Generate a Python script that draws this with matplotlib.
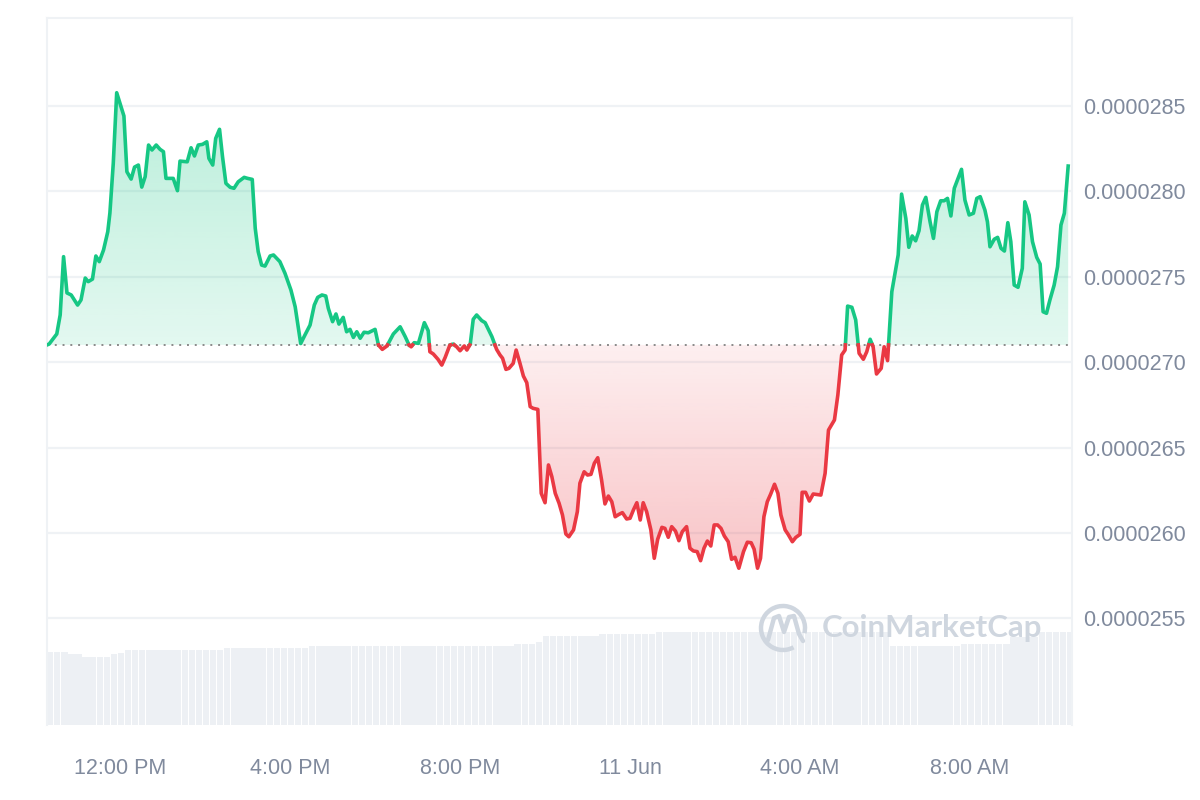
import matplotlib as mpl
mpl.use('Agg')
import matplotlib.pyplot as plt
import numpy as np
from matplotlib.path import Path
from matplotlib.colors import to_rgb
from matplotlib.patches import Arc

plt.rcParams['font.family'] = ['Liberation Sans', 'DejaVu Sans']

# time in hours since 10 Jun 00:00, price in units of 1e-7
hours = [
    10.28, 10.33, 10.51, 10.59, 10.67, 10.75, 10.85, 11.00, 11.08, 11.18,
    11.25, 11.35, 11.43, 11.51, 11.61, 11.71, 11.76, 11.84, 11.92, 12.09,
    12.16, 12.26, 12.34, 12.43, 12.51, 12.59, 12.67, 12.75, 12.85, 12.94,
    13.02, 13.08, 13.25, 13.35, 13.41, 13.58, 13.67, 13.75, 13.84, 13.94,
    14.04, 14.09, 14.18, 14.25, 14.34, 14.41, 14.49, 14.59, 14.68, 14.78,
    14.92, 15.00, 15.11, 15.18, 15.25, 15.33, 15.41, 15.53, 15.61, 15.76,
    15.88, 16.02, 16.12, 16.25, 16.35, 16.47, 16.57, 16.65, 16.75, 16.84,
    16.90, 17.00, 17.08, 17.15, 17.25, 17.33, 17.41, 17.49, 17.57, 17.65,
    17.74, 17.84, 18.00, 18.08, 18.17, 18.28, 18.43, 18.59, 18.71, 18.80,
    18.85, 18.92, 19.02, 19.16, 19.25, 19.29, 19.37, 19.48, 19.57, 19.65,
    19.76, 19.84, 19.92, 20.00, 20.10, 20.16, 20.24, 20.31, 20.39, 20.51,
    20.59, 20.75, 20.86, 20.94, 21.00, 21.08, 21.15, 21.25, 21.32, 21.41,
    21.49, 21.57, 21.65, 21.72, 21.83, 21.91, 22.00, 22.08, 22.16, 22.24,
    22.33, 22.41, 22.49, 22.56, 22.67, 22.76, 22.82, 22.92, 23.00, 23.08,
    23.16, 23.24, 23.33, 23.41, 23.49, 23.57, 23.65, 23.74, 23.82, 23.92,
    24.00, 24.08, 24.16, 24.24, 24.31, 24.39, 24.49, 24.57, 24.65, 24.75,
    24.82, 24.90, 24.98, 25.07, 25.15, 25.23, 25.33, 25.41, 25.49, 25.58,
    25.66, 25.74, 25.82, 25.90, 25.98, 26.06, 26.14, 26.22, 26.31, 26.39,
    26.47, 26.56, 26.67, 26.76, 26.85, 26.92, 27.00, 27.07, 27.15, 27.23,
    27.31, 27.40, 27.48, 27.55, 27.65, 27.72, 27.82, 27.90, 28.00, 28.05,
    28.13, 28.22, 28.31, 28.49, 28.59, 28.67, 28.81, 28.89, 28.98, 29.06,
    29.12, 29.22, 29.31, 29.39, 29.49, 29.57, 29.65, 29.72, 29.80, 29.91,
    29.98, 30.06, 30.16, 30.31, 30.39, 30.49, 30.56, 30.64, 30.72, 30.80,
    30.88, 30.96, 31.06, 31.14, 31.22, 31.31, 31.39, 31.47, 31.55, 31.63,
    31.72, 31.80, 31.88, 31.98, 32.08, 32.16, 32.24, 32.35, 32.41, 32.47,
    32.57, 32.65, 32.73, 32.81, 32.89, 32.96, 33.04, 33.13, 33.23, 33.29,
    33.39, 33.47, 33.57, 33.65, 33.72, 33.80, 33.88, 33.98, 34.06, 34.14,
    34.22, 34.31]

prices = [
    271.00, 271.05, 271.64, 272.75, 276.16, 274.04, 273.92, 273.33, 273.63, 274.91,
    274.70, 274.85, 276.20, 275.87, 276.55, 277.62, 278.71, 281.64, 285.75, 284.39,
    281.13, 280.70, 281.40, 281.52, 280.23, 280.84, 282.69, 282.40, 282.69, 282.44,
    282.30, 280.74, 280.74, 280.02, 281.75, 281.71, 282.53, 282.05, 282.69, 282.73,
    282.88, 281.91, 281.52, 283.08, 283.61, 282.01, 280.45, 280.22, 280.16, 280.54,
    280.80, 280.74, 280.68, 277.82, 276.45, 275.67, 275.61, 276.20, 276.26, 275.87,
    275.19, 274.21, 273.23, 271.08, 271.58, 272.16, 273.33, 273.78, 273.92, 273.86,
    273.14, 272.36, 272.81, 272.22, 272.61, 271.77, 271.91, 271.44, 271.77, 271.39,
    271.74, 271.71, 271.91, 270.99, 270.74, 270.94, 271.64, 272.06, 271.48, 270.99,
    270.89, 271.13, 271.09, 272.30, 271.83, 270.60, 270.47, 270.16, 269.82, 270.27,
    270.99, 271.05, 270.89, 270.66, 270.94, 270.70, 271.05, 272.50, 272.75, 272.42,
    272.30, 271.48, 270.74, 270.41, 270.22, 269.57, 269.63, 269.92, 270.70, 269.92,
    269.18, 268.79, 267.39, 267.29, 267.23, 262.32, 261.77, 263.98, 263.29, 262.32,
    261.74, 261.05, 259.94, 259.78, 260.18, 261.25, 262.91, 263.58, 263.39, 263.43,
    264.08, 264.40, 263.10, 261.70, 262.16, 261.83, 260.95, 261.09, 261.19, 260.82,
    260.86, 261.35, 261.77, 260.76, 261.77, 261.25, 260.18, 258.52, 259.63, 260.33,
    260.27, 259.75, 260.37, 260.11, 259.55, 260.08, 260.37, 259.11, 258.95, 258.91,
    258.38, 259.11, 259.53, 259.24, 260.47, 260.47, 260.27, 259.82, 259.49, 258.46,
    258.58, 257.94, 258.91, 259.46, 259.43, 259.05, 257.94, 258.52, 260.95, 261.83,
    262.28, 262.85, 262.32, 261.05, 260.18, 259.92, 259.49, 259.74, 259.92, 262.38,
    262.38, 261.87, 262.28, 262.22, 263.49, 266.02, 266.61, 268.07, 270.41, 270.70,
    273.27, 273.20, 272.46, 270.51, 270.16, 270.60, 271.33, 270.89, 269.30, 269.63,
    270.89, 270.08, 274.11, 276.26, 279.82, 278.40, 276.71, 277.37, 277.09, 277.68,
    279.18, 279.63, 278.20, 277.23, 278.79, 279.43, 279.43, 279.57, 278.54, 280.16,
    280.74, 281.27, 279.47, 278.60, 278.70, 279.57, 279.67, 278.89, 278.20, 276.74,
    277.18, 277.29, 276.65, 276.49, 278.15, 277.04, 274.50, 274.37, 275.48, 279.37,
    278.60, 277.04, 276.12, 275.73, 272.94, 272.85, 273.63, 274.50, 275.57, 278.01,
    278.70, 281.46]

# volume (10 minute bars), read as runs of equal height
vol_levels = [7.33, 7.07, 6.83, 7.07, 7.25, 7.50, 7.67, 7.90, 8.07, 8.33,
              8.90, 9.07, 9.27, 7.95, 8.10, 8.80, 9.30]
vol_counts = [3, 2, 4, 1, 1, 14, 12, 29, 3, 1, 8, 8, 33, 10, 7, 4, 5]

tick_hours = [12, 16, 20, 24, 28, 32]
tick_labels = ['12:00 PM', '4:00 PM', '8:00 PM', '11 Jun', '4:00 AM', '8:00 AM']
price_ticks = [255, 260, 265, 270, 275, 280, 285]

green = '#16c784'
red = '#ea3943'
grey_txt = '#808a9d'
grid_c = '#eff2f5'

t = np.array(hours)
p = np.array(prices) * 1e-7
base = p[0]

fig = plt.figure(figsize=(12, 8), dpi=100)
rect = [47 / 1200, 75 / 800, 1025 / 1200, 707 / 800]
xlim = (10.28, 34.40)

# volume underneath
axv = fig.add_axes(rect)
vol = np.repeat(vol_levels, vol_counts)
vx = xlim[0] + np.arange(len(vol)) / 6
axv.bar(vx, vol, width=1 / 6 * 0.9, align='edge', color='#edf0f4', linewidth=0)
axv.set_xlim(xlim)
axv.set_ylim(0, 70.7)
axv.axis('off')

ax = fig.add_axes(rect)
ax.patch.set_visible(False)

# insert crossing points so the colour switches exactly at the baseline
tt, pp = [t[0]], [p[0]]
for i in range(1, len(t)):
    d0, d1 = p[i - 1] - base, p[i] - base
    if d0 * d1 < 0:
        f = d0 / (d0 - d1)
        tt.append(t[i - 1] + f * (t[i] - t[i - 1]))
        pp.append(base)
    tt.append(t[i])
    pp.append(p[i])
tt, pp = np.array(tt), np.array(pp)


def grad_fill(mask, color, a_base, a_far, y_far):
    poly = ax.fill_between(tt, pp, base, where=mask, facecolor='none', edgecolor='none')
    path = Path.make_compound_path(*poly.get_paths())
    rgba = np.zeros((256, 1, 4))
    rgba[..., :3] = to_rgb(color)
    lo, hi = min(base, y_far), max(base, y_far)
    if y_far > base:
        rgba[:, 0, 3] = np.linspace(a_base, a_far, 256)
    else:
        rgba[:, 0, 3] = np.linspace(a_far, a_base, 256)
    im = ax.imshow(rgba, extent=[tt[0], tt[-1], lo, hi], origin='lower',
                   aspect='auto', zorder=1)
    im.set_clip_path(path, ax.transData)


grad_fill(pp >= base, green, 0.12, 0.30, pp.max())
grad_fill(pp <= base, red, 0.08, 0.30, pp.min())

ax.plot(tt, np.where(pp >= base, pp, np.nan), color=green, lw=2.6, zorder=3,
        solid_joinstyle='round')
ax.plot(tt, np.where(pp <= base, pp, np.nan), color=red, lw=2.6, zorder=3,
        solid_joinstyle='round')
ax.hlines(base, tt[0], tt[-1], colors='#8a8a8a', linestyles=(0, (1, 3)),
          lw=1.4, zorder=2)

ax.set_xlim(xlim)
ax.set_ylim(248.77e-7, 290.12e-7)
ax.set_yticks([v * 1e-7 for v in price_ticks])
ax.set_yticklabels(['%.7f' % (v * 1e-7) for v in price_ticks])
ax.set_xticks(tick_hours)
ax.set_xticklabels(tick_labels)
ax.yaxis.tick_right()
ax.tick_params(axis='y', length=0, pad=8, labelsize=15.5, colors=grey_txt)
ax.tick_params(axis='x', length=0, pad=24, labelsize=15.5, colors=grey_txt)
ax.grid(axis='y', color=grid_c, lw=1.6, zorder=0)
ax.set_axisbelow(True)
for s in ax.spines.values():
    s.set_color(grid_c)
    s.set_linewidth(1.5)
ax.spines['bottom'].set_visible(False)

# watermark
wm = '#cfd6df'
fig.text(822 / 1200, 1 - 628 / 800, 'CoinMarketCap', color=wm, fontsize=22.5,
         fontweight='bold', ha='left', va='center', family=['Lato', 'DejaVu Sans'])
fig.add_artist(Arc((783 / 1200, 1 - 628 / 800), 44 / 1200, 44 / 800, theta1=-20,
                   theta2=290, transform=fig.transFigure, color=wm, lw=3.2))
mx = np.array([768, 774, 779, 784, 789, 794, 799, 803]) / 1200
my = 1 - np.array([640, 618, 616, 632, 617, 616, 634, 641]) / 800
fig.add_artist(plt.Line2D(mx, my, transform=fig.transFigure, color=wm, lw=3.2,
                          solid_joinstyle='round', solid_capstyle='round'))

fig.savefig('out.png', dpi=100, facecolor='white')
plt.close(fig)
